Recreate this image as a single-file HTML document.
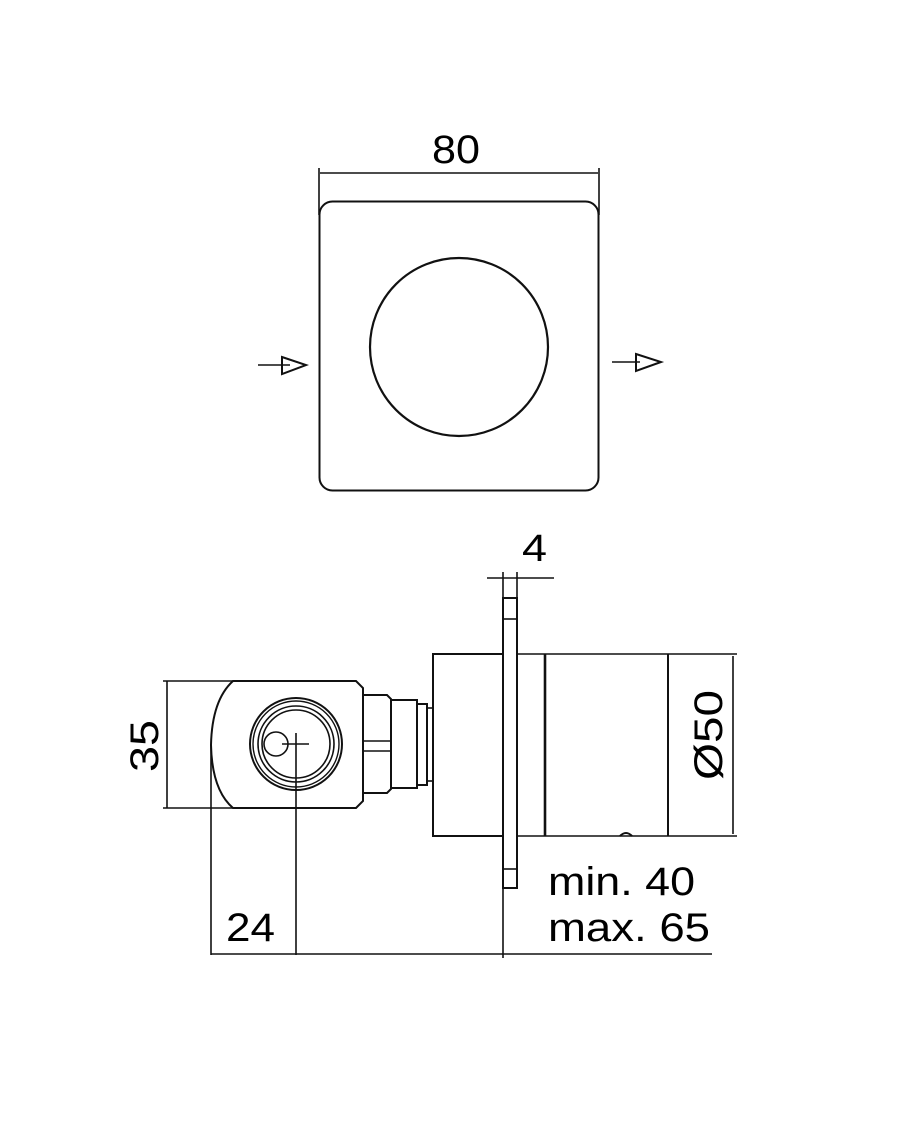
<!DOCTYPE html>
<html><head><style>body{margin:0;background:#fff}svg{display:block}text{font-family:"Liberation Sans",sans-serif;fill:#000}</style></head>
<body>
<svg width="900" height="1136" viewBox="0 0 900 1136" xmlns="http://www.w3.org/2000/svg" fill="none" stroke="#111" stroke-width="1.6">
<!-- top view -->
<text x="432" y="163" font-size="40" textLength="48" lengthAdjust="spacingAndGlyphs" stroke="none">80</text>
<line x1="320" y1="173" x2="598" y2="173"/>
<line x1="319" y1="168" x2="319" y2="215"/>
<line x1="599" y1="168" x2="599" y2="215"/>
<rect x="319.5" y="201.5" width="279" height="289" rx="13" stroke-width="2"/>
<circle cx="459" cy="347" r="89" stroke-width="2.2"/>
<line x1="258" y1="365" x2="290" y2="365"/>
<polygon points="282,357 306,365 282,374" stroke-width="2"/>
<line x1="612" y1="362" x2="640" y2="362"/>
<polygon points="636,354 661,362 636,371" stroke-width="2"/>
<!-- side view -->
<text x="522" y="561" font-size="38" textLength="25" lengthAdjust="spacingAndGlyphs" stroke="none">4</text>
<line x1="487" y1="578" x2="554" y2="578"/>
<line x1="503" y1="572" x2="503" y2="958"/>
<line x1="517" y1="572" x2="517" y2="598"/>
<rect x="503" y="598" width="14" height="290" stroke-width="2"/>
<line x1="503" y1="619" x2="517" y2="619"/>
<line x1="503" y1="869" x2="517" y2="869"/>
<polyline points="503,654 433,654 433,836 503,836" stroke-width="2"/>
<polyline points="517,654 737,654"/>
<polyline points="517,836 737,836"/>
<line x1="545" y1="654" x2="545" y2="836" stroke-width="2.6"/>
<line x1="668" y1="654" x2="668" y2="836" stroke-width="2"/>
<line x1="733" y1="656" x2="733" y2="834"/>
<text transform="translate(722,780) rotate(-90)" font-size="40" textLength="90" lengthAdjust="spacingAndGlyphs" stroke="none">Ø50</text>
<path d="M620,836 q6,-6 12,0" stroke-width="2"/>
<text x="548" y="895" font-size="40" textLength="147" lengthAdjust="spacingAndGlyphs" stroke="none">min. 40</text>
<text x="548" y="941" font-size="40" textLength="162" lengthAdjust="spacingAndGlyphs" stroke="none">max. 65</text>
<line x1="296" y1="954" x2="712" y2="954"/>
<line x1="211" y1="954" x2="296" y2="954"/>
<text x="226" y="941" font-size="40" textLength="49" lengthAdjust="spacingAndGlyphs" stroke="none">24</text>
<!-- left body -->
<line x1="163" y1="681" x2="233" y2="681"/>
<line x1="163" y1="808" x2="233" y2="808"/>
<line x1="167" y1="681" x2="167" y2="808"/>
<text transform="translate(158,772) rotate(-90)" font-size="40" textLength="52" lengthAdjust="spacingAndGlyphs" stroke="none">35</text>
<path d="M233,681 L356,681 L363,688 L363,801 L356,808 L233,808 Q212,790 211,745 Q212,700 233,681 Z" stroke-width="2"/>
<line x1="211" y1="745" x2="211" y2="955"/>
<line x1="296" y1="733" x2="296" y2="955"/>
<circle cx="296" cy="744" r="46" stroke-width="2"/>
<circle cx="296" cy="744" r="43" stroke-width="1.4"/>
<circle cx="296" cy="744" r="38" stroke-width="1.6"/>
<circle cx="296" cy="744" r="34" stroke-width="1.6"/>
<circle cx="276" cy="744" r="12" stroke-width="1.6"/>
<line x1="282" y1="744" x2="309" y2="744"/>
<path d="M363,695 L387,695 L391,699 L391,789 L387,793 L363,793" stroke-width="2"/>
<line x1="363" y1="741" x2="390" y2="741"/>
<line x1="363" y1="751" x2="390" y2="751"/>
<rect x="391" y="700" width="26" height="88" stroke-width="2"/>
<rect x="417" y="704" width="10" height="81" stroke-width="2"/>
<rect x="427" y="708" width="6" height="73" stroke-width="1.6"/>
</svg>
</body></html>
